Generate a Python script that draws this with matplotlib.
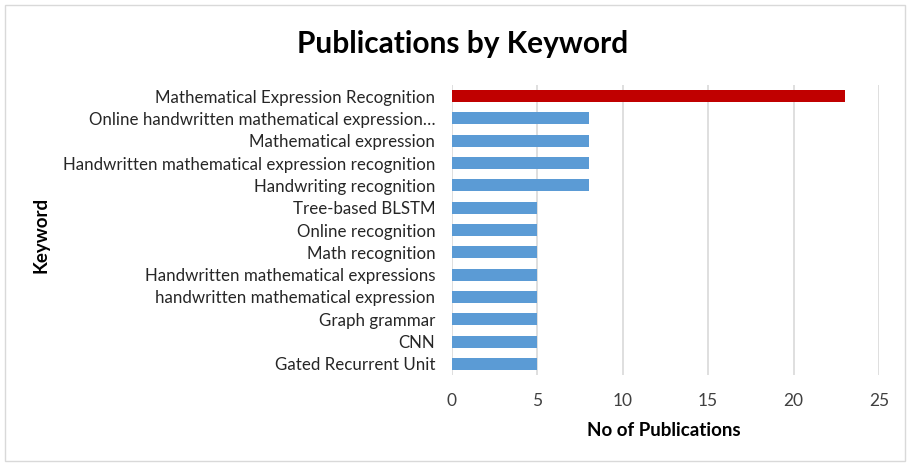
import matplotlib
matplotlib.use('Agg')
import matplotlib.pyplot as plt
from matplotlib import patches

plt.rcParams['font.family'] = ['Lato', 'DejaVu Sans']

## keyword counts, top row first
keywords = [
    'Mathematical Expression Recognition',
    'Online handwritten mathematical expression\u2026',
    'Mathematical expression',
    'Handwritten mathematical expression recognition',
    'Handwriting recognition',
    'Tree-based BLSTM',
    'Online recognition',
    'Math recognition',
    'Handwritten mathematical expressions',
    'handwritten mathematical expression',
    'Graph grammar',
    'CNN',
    'Gated Recurrent Unit',
]
counts = [23, 8, 8, 8, 8, 5, 5, 5, 5, 5, 5, 5, 5]
xticks = [0, 5, 10, 15, 20, 25]

def main():
    fig = plt.figure(figsize=(9.07, 4.65), dpi=100)
    ax = fig.add_axes([0.4983, 0.1935, 0.4708, 0.6237])

    pos = list(range(len(keywords)))
    colors = ['#C00000'] + ['#5B9BD5'] * (len(keywords) - 1)
    ax.barh(pos, counts, height=0.54, color=colors, zorder=3)

    ax.set_ylim(len(keywords) - 0.5, -0.5)
    ax.set_xlim(0, 25)
    ax.set_xticks(xticks)
    ax.set_xticklabels([str(t) for t in xticks], fontsize=12.5, color='#404040')
    ax.set_yticks(pos)
    ax.set_yticklabels(keywords, fontsize=12.2, color='#262626')
    ax.tick_params(length=0, pad=12)
    ax.tick_params(axis='x', pad=13)
    ax.grid(axis='x', color='#D9D9D9', linewidth=1.2, zorder=0)
    for s in ax.spines.values():
        s.set_visible(False)

    fig.text(0.5105, 0.905, 'Publications by Keyword', ha='center', va='center',
             fontsize=21.5, fontweight='bold')
    fig.text(0.732, 0.075, 'No of Publications', ha='center', va='center',
             fontsize=13.5, fontweight='bold')
    fig.text(0.045, 0.495, 'Keyword', ha='center', va='center', rotation=90,
             fontsize=13.5, fontweight='bold')

    # thin frame round the whole chart
    fig.patches.append(patches.Rectangle((0.006, 0.008), 0.992, 0.982, transform=fig.transFigure,
                                         fill=False, edgecolor='#D9D9D9', linewidth=1))
    fig.savefig('out.png', dpi=100)

if __name__ == "__main__":
    main()
